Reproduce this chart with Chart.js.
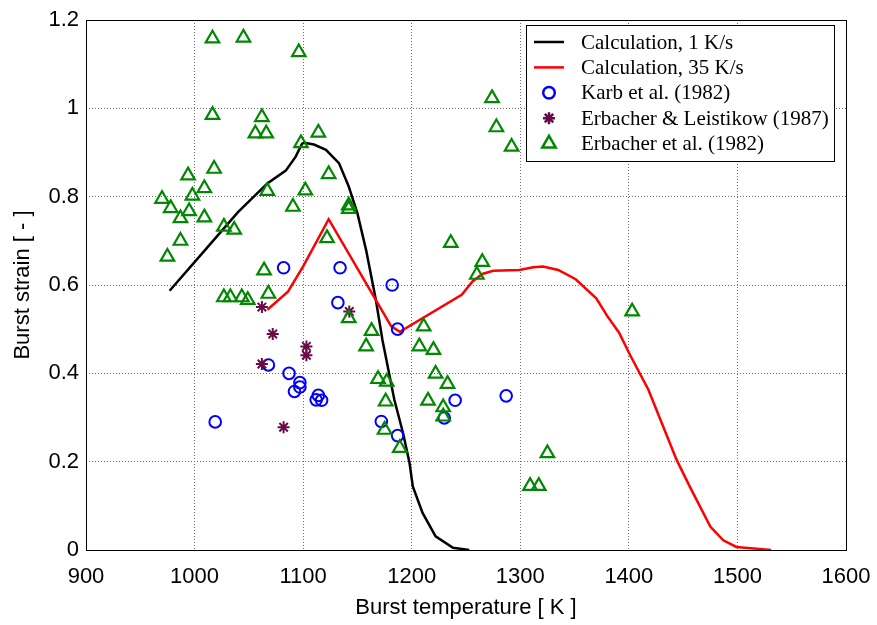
<!DOCTYPE html>
<html>
<head>
<meta charset="utf-8">
<script src="https://cdn.jsdelivr.net/npm/chart.js@4.4.1/dist/chart.umd.min.js"></script>
<style>
    html, body { margin: 0; padding: 0; background: #fff; }
    #wrap { width: 877px; height: 625px; }
</style>
</head>
<body>
<div id="wrap"><canvas id="burst" width="877" height="625"></canvas></div>
<script>
// ---- data ----
var xTicks = [900, 1000, 1100, 1200, 1300, 1400, 1500, 1600];
var yTicks = [0, 0.2, 0.4, 0.6, 0.8, 1, 1.2];
var yTickLabels = ['0', '0.2', '0.4', '0.6', '0.8', '1', '1.2'];

var seriesNames = ['Calculation, 1 K/s', 'Calculation, 35 K/s', 'Karb et al. (1982)',
    'Erbacher & Leistikow (1987)', 'Erbacher et al. (1982)'];

// calculation, 1 K/s
var calc1T = [977, 1010, 1040, 1067, 1084, 1093, 1099, 1101, 1110, 1121, 1133, 1142, 1150, 1158,
    1167, 1173, 1184, 1192, 1198, 1201, 1210, 1222, 1238, 1253];
var calc1S = [0.587, 0.680, 0.765, 0.830, 0.859, 0.890, 0.920, 0.922, 0.918, 0.906, 0.876, 0.823,
    0.762, 0.679, 0.566, 0.476, 0.340, 0.265, 0.197, 0.144, 0.084, 0.031, 0.005, 0];

// calculation, 35 K/s
var calc35T = [1067, 1086, 1100, 1123.5, 1181, 1189, 1246, 1256, 1265, 1275, 1299, 1312, 1321,
    1335, 1351, 1370, 1380, 1391, 1401, 1418, 1444, 1456, 1475, 1487, 1499, 1531];
var calc35S = [0.544, 0.585, 0.642, 0.749, 0.507, 0.494, 0.578, 0.608, 0.625, 0.632, 0.634, 0.640,
    0.642, 0.634, 0.613, 0.570, 0.530, 0.492, 0.442, 0.363, 0.204, 0.144, 0.053, 0.022, 0.007, 0];

// Karb et al. (1982)
var karbT = [1082, 1134, 1132, 1068, 1087, 1097, 1097, 1092, 1114, 1117, 1112, 1019, 1182, 1187,
    1240, 1230, 1172, 1187, 1287];
var karbS = [0.639, 0.639, 0.560, 0.419, 0.400, 0.379, 0.369, 0.359, 0.350, 0.339, 0.340, 0.290,
    0.600, 0.500, 0.339, 0.299, 0.291, 0.259, 0.349];

// Erbacher & Leistikow (1987)
var leistT = [1062, 1072, 1103, 1103, 1062, 1082, 1142.5];
var leistS = [0.550, 0.489, 0.461, 0.441, 0.421, 0.278, 0.540];

// Erbacher et al. (1982)
var erbT = [1016.5, 1045, 1096, 1016.5, 1062, 1056, 1066, 1114, 1098, 1018, 1123.5, 994, 1009,
    1067, 1102, 998, 970, 1090.6, 1142, 1142, 978, 995, 987, 1009, 1027, 1036.5, 987, 975, 1122,
    1064, 1027, 1033, 1043.5, 1049, 1068, 1142, 1236, 1265, 1260, 1163, 1158, 1211, 1207, 1220,
    1169, 1177, 1222, 1233, 1176, 1215, 1229, 1229, 1175, 1189, 1274, 1278, 1292, 1403, 1325,
    1309, 1317];
var erbS = [1.158, 1.160, 1.127, 0.985, 0.980, 0.943, 0.943, 0.945, 0.921, 0.863, 0.851, 0.848,
    0.819, 0.813, 0.814, 0.802, 0.795, 0.777, 0.780, 0.772, 0.774, 0.767, 0.751, 0.753, 0.732,
    0.725, 0.700, 0.664, 0.706, 0.633, 0.572, 0.572, 0.572, 0.566, 0.580, 0.525, 0.695, 0.652,
    0.623, 0.496, 0.461, 0.506, 0.461, 0.453, 0.387, 0.381, 0.399, 0.376, 0.336, 0.338, 0.323,
    0.302, 0.272, 0.231, 1.023, 0.957, 0.913, 0.540, 0.219, 0.145, 0.145];

function pts(xs, ys) {
    return xs.map(function(x, i) { return {x: x, y: ys[i]}; });
}

var sansFont = "'Liberation Sans', Arial, Helvetica, sans-serif";
var serifFont = "'Liberation Serif', 'Times New Roman', serif";

var datasets = [{
    label: seriesNames[0],
    data: pts(calc1T, calc1S),
    showLine: true,
    borderColor: '#000000',
    borderWidth: 2.5,
    pointRadius: 0,
    order: 5
}, {
    label: seriesNames[1],
    data: pts(calc35T, calc35S),
    showLine: true,
    borderColor: '#ff0000',
    borderWidth: 2.5,
    pointRadius: 0,
    order: 4
}, {
    label: seriesNames[2],
    data: pts(karbT, karbS),
    pointStyle: 'circle',
    pointRadius: 5.8,
    pointBorderWidth: 2,
    pointBorderColor: '#0000ff',
    pointBackgroundColor: 'rgba(0,0,0,0)',
    order: 3
}, {
    label: seriesNames[3],
    data: pts(leistT, leistS),
    pointStyle: 'star',
    pointRadius: 6,
    pointBorderWidth: 2,
    pointBorderColor: '#6a0a4a',
    pointBackgroundColor: '#6a0a4a',
    order: 2
}, {
    label: seriesNames[4],
    data: pts(erbT, erbS),
    pointStyle: 'triangle',
    pointRadius: 7.8,
    pointBorderWidth: 2.2,
    pointBorderColor: '#008800',
    pointBackgroundColor: 'rgba(0,0,0,0)',
    order: 1
}];

// frame around the plot + boxed legend in the upper right
var frameAndLegend = {
    id: 'frameAndLegend',
    afterDraw: function(chart) {
        var ctx = chart.ctx;
        var a = chart.chartArea;
        ctx.save();
        ctx.setLineDash([]);
        ctx.strokeStyle = '#000';
        ctx.lineWidth = 1;
        ctx.strokeRect(Math.round(a.left) + 0.5, Math.round(a.top) + 0.5,
            Math.round(a.right - a.left), Math.round(a.bottom - a.top));

        var bw = 308, bh = 136;
        var bx = Math.round(a.right) - 12 - bw;
        var by = Math.round(a.top) + 5;
        ctx.fillStyle = '#fff';
        ctx.fillRect(bx, by, bw, bh);
        ctx.strokeRect(bx + 0.5, by + 0.5, bw, bh);

        ctx.font = '21px ' + serifFont;
        ctx.textBaseline = 'middle';
        ctx.textAlign = 'left';
        var rowH = 25.4;
        datasets.forEach(function(ds, i) {
            var cy = by + 17 + i * rowH;
            var sx = bx + 8;
            if (ds.showLine) {
                ctx.strokeStyle = ds.borderColor;
                ctx.lineWidth = 2.5;
                ctx.beginPath();
                ctx.moveTo(sx, cy);
                ctx.lineTo(sx + 30, cy);
                ctx.stroke();
            } else {
                ctx.strokeStyle = ds.pointBorderColor;
                ctx.fillStyle = ds.pointBackgroundColor;
                Chart.helpers.drawPoint(ctx, {
                    pointStyle: ds.pointStyle,
                    radius: ds.pointRadius,
                    rotation: 0,
                    borderWidth: ds.pointBorderWidth
                }, sx + 15, cy);
            }
            ctx.fillStyle = '#000';
            ctx.fillText(ds.label, bx + 55, cy + 1);
        });
        ctx.restore();
    }
};

var gridOpts = {color: '#6e6e6e', lineWidth: 1, drawTicks: false};

new Chart(document.getElementById('burst'), {
    type: 'scatter',
    data: {datasets: datasets},
    options: {
        responsive: false,
        animation: false,
        layout: {padding: {top: 20, right: 31, left: 0, bottom: 0}},
        plugins: {legend: {display: false}, tooltip: {enabled: false}},
        scales: {
            x: {
                type: 'linear',
                min: 900,
                max: 1600,
                grid: gridOpts,
                border: {display: false, dash: [1, 2]},
                afterBuildTicks: function(s) { s.ticks = xTicks.map(function(v) { return {value: v}; }); },
                afterFit: function(s) { s.height = 75; s.paddingLeft = 0; s.paddingRight = 0; },
                ticks: {
                    padding: 14,
                    color: '#000',
                    font: {family: sansFont, size: 22},
                    maxRotation: 0,
                    callback: function(v) { return String(v); }
                },
                title: {
                    display: true,
                    text: 'Burst temperature [ K ]',
                    color: '#000',
                    font: {family: sansFont, size: 22},
                    padding: {top: 4, bottom: 4}
                }
            },
            y: {
                type: 'linear',
                min: 0,
                max: 1.2,
                grid: gridOpts,
                border: {display: false, dash: [1, 2]},
                afterBuildTicks: function(s) { s.ticks = yTicks.map(function(v) { return {value: v}; }); },
                afterFit: function(s) { s.width = 86; s.paddingTop = 0; s.paddingBottom = 0; },
                ticks: {
                    padding: 7,
                    color: '#000',
                    font: {family: sansFont, size: 22},
                    callback: function(v, i) { return yTickLabels[i]; }
                },
                title: {
                    display: true,
                    text: 'Burst strain [ - ]',
                    color: '#000',
                    font: {family: sansFont, size: 22},
                    padding: {top: 10, bottom: 4}
                }
            }
        }
    },
    plugins: [frameAndLegend]
});
</script>
</body>
</html>
